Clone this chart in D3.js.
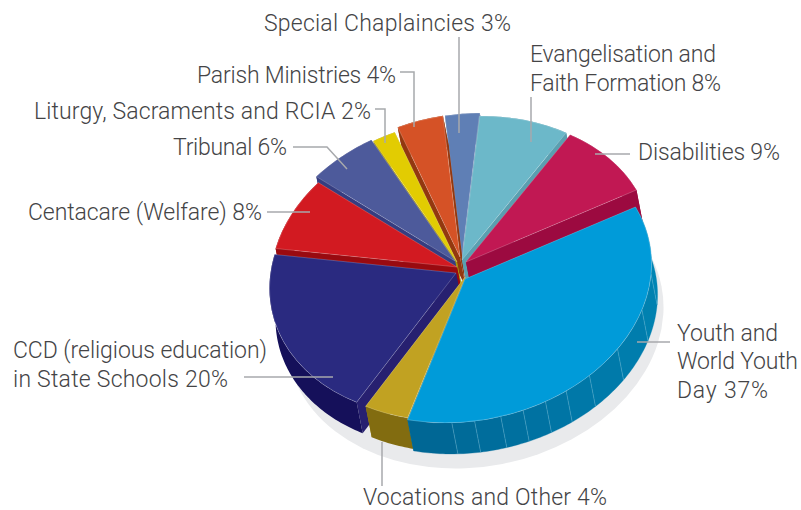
<!DOCTYPE html>
<html><head><meta charset="utf-8">
<script src="https://cdn.jsdelivr.net/npm/d3@7"></script>
<style>html,body{margin:0;background:#fff}svg{display:block}text{font-family:"Roboto",sans-serif;font-weight:300;font-size:23px;fill:#444446}</style>
</head><body><div id="c"></div>
<script>
// DATA
const categories = ["Evangelisation and Faith Formation","Disabilities","Youth and World Youth Day","Vocations and Other","CCD (religious education) in State Schools","Centacare (Welfare)","Tribunal","Liturgy, Sacraments and RCIA","Parish Ministries","Special Chaplaincies"];
const percent = [8,9,37,4,20,8,6,2,4,3];
const blueWallRibs = [192.4,185.4,177.3,170.2,162.8,155.5,146.5,133.5,116.8,102.4];

// STYLE
const topColor  = ["#6cb8c9","#c11853","#009bd9","#c1a222","#2a2a80","#d21a21","#4d5a9b","#e2cc02","#d55226","#5f7fb5"];
const cutColor  = ["#5a9fb0","#9c0a40","#0087b8","#a88e18","#272070","#990a10","#363d80","#a8960c","#93380f","#4a6498"];
const wallColor = ["#5a9fb0","#9c0a40","#0080b0","#826c10","#15105a","#990a10","#363d80","#a8960c","#93380f","#4a6498"];
// LAYOUT
const W=801,H=510,rx=188,ry=142,tilt=11,depth=31.6;
const apexes=[[462,260],[466,262],[465,279],[465,277],[456,273],[457,267],[455,261],[457,262],[460,257],[462,257]];
const paintOrder=[9,8,0,7,1,6,5,4,3,2];
const rad=d=>d*Math.PI/180;
const e1=[Math.cos(rad(tilt)),-Math.sin(rad(tilt))], e2=[Math.sin(rad(tilt)),Math.cos(rad(tilt))];

const svg=d3.select("#c").append("svg").attr("width",W).attr("height",H);
svg.append("ellipse").attr("rx",190).attr("ry",144).attr("fill","#e9eaec")
  .attr("transform",`translate(475,322.6) rotate(${-tilt})`);

const pie=d3.pie().sort(null).value(d=>d).startAngle(rad(13.8)).endAngle(rad(373.8));
const slices=pie(percent);
const arc=d3.arc().innerRadius(0).outerRadius(rx);
const line=d3.line();
const pt=(i,a)=>{const u=rx*Math.sin(a),v=-ry*Math.cos(a);return [apexes[i][0]+u*e1[0]+v*e2[0],apexes[i][1]+u*e1[1]+v*e2[1]];};
const arcPts=(i,a0,a1)=>d3.range(0,1.0001,1/Math.max(2,Math.ceil((a1-a0)*60))).map(t=>pt(i,a0+(a1-a0)*t));
const down=p=>[p[0]+depth*e2[0],p[1]+depth*e2[1]];
const wallColorScale=d3.scaleLinear().domain([rad(205),rad(150),rad(70)]).range(["#006593","#0078a8","#0089b8"]);

paintOrder.forEach(i=>{
  const s=slices[i], g=svg.append("g"), a=apexes[i];
  const p0=pt(i,s.startAngle), p1=pt(i,s.endAngle);
  [p0,p1].forEach(p=>g.append("path").attr("d",line([a,p,down(p),down(a)])+"Z").attr("fill",cutColor[i]));
  if(i===2){
    const deg=[...blueWallRibs].sort((x,y)=>y-x);
    const edges=[s.endAngle*180/Math.PI,...deg,s.startAngle*180/Math.PI];
    d3.pairs(edges).forEach(([u,v])=>{
      const pts=arcPts(i,rad(v),rad(u));
      g.append("path").attr("d",line([...pts,...pts.slice().reverse().map(down)])+"Z")
        .attr("fill",wallColorScale(rad((u+v)/2))).attr("stroke",wallColorScale(rad((u+v)/2))).attr("stroke-width",.3);
    });
    blueWallRibs.forEach(d=>{const p=pt(i,rad(d));
      g.append("path").attr("d",line([p,down(p)])).attr("stroke","#7fc4de").attr("stroke-opacity",.6).attr("stroke-width",.6).attr("fill","none");});
  } else {
    const pts=arcPts(i,s.startAngle,s.endAngle);
    g.append("path").attr("d",line([...pts,...pts.slice().reverse().map(down)])+"Z").attr("fill",wallColor[i]);
  }
  g.append("path").attr("d",arc(s))
    .attr("transform",`translate(${a[0]},${a[1]}) rotate(${-tilt}) scale(1,${ry/rx})`)
    .attr("fill",topColor[i]).attr("stroke","#fff").attr("stroke-opacity",.3).attr("stroke-width",.7)
    .attr("vector-effect","non-scaling-stroke");
});

const leaders=[
 [[459,37],[459,133]],
 [[531,97],[531,142]],
 [[400,72],[414,72],[414,127]],
 [[375,109],[385,109],[385,143]],
 [[293,147],[327,147],[347,169]],
 [[267,212],[310,212]],
 [[595,154],[630,154]],
 [[637,342],[670,342]],
 [[244,377],[333,377]],
 [[382,442],[382,486]]
];
svg.append("g").selectAll("path").data(leaders).join("path").attr("d",d=>line(d))
  .attr("fill","none").attr("stroke","#a7a9ac").attr("stroke-width",1.5);

// text, x, baseline, width in the reference
const labels=[
 ["Special Chaplaincies 3%",264,31,247],
 ["Evangelisation and",530,62,186],["Faith Formation 8%",530,91,191],
 ["Disabilities 9%",638,160,142],
 ["Youth and",677,341,101],["World Youth",677,369,121],["Day 37%",677,398,91],
 ["Vocations and Other 4%",363,505,244],
 ["CCD (religious education)",13,358,254],["in State Schools 20%",13,387,215],
 ["Centacare (Welfare) 8%",28,220,234],
 ["Tribunal 6%",173,155,114],
 ["Liturgy, Sacraments and RCIA 2%",34,119,337],
 ["Parish Ministries 4%",197,83,199]
];
svg.append("g").selectAll("text").data(labels).join("text").attr("x",d=>d[1]).attr("y",d=>d[2])
  .attr("textLength",d=>d[3]).attr("lengthAdjust","spacing").text(d=>d[0]);
</script></body></html>
